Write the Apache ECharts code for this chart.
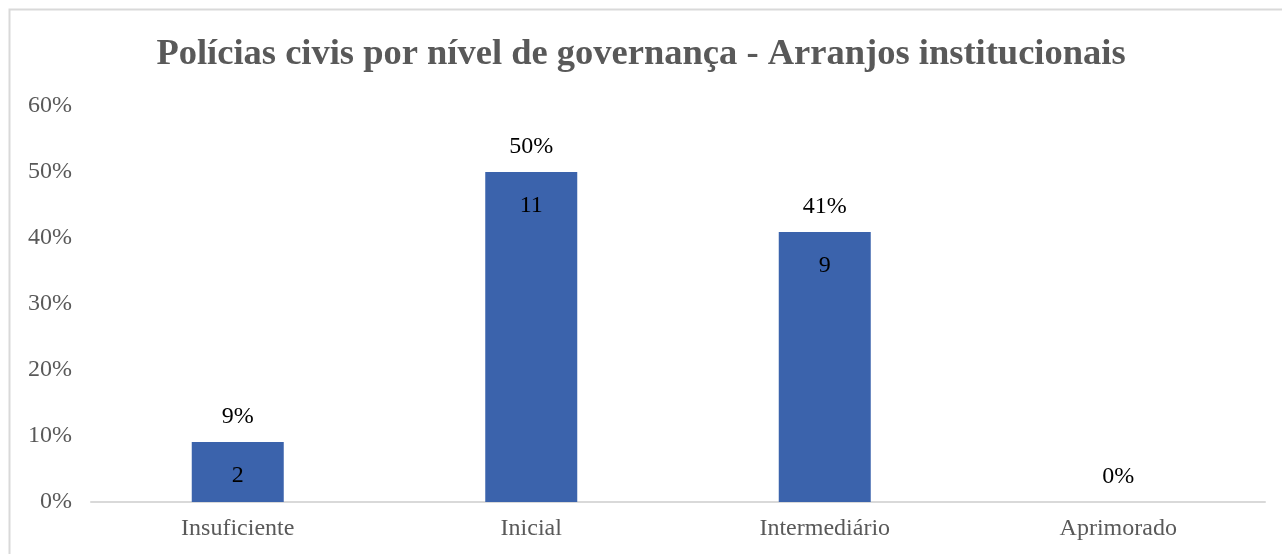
<!DOCTYPE html>
<html>
<head>
<meta charset="utf-8">
<script src="https://cdn.jsdelivr.net/npm/echarts@6/dist/echarts.min.js"></script>
<style>
  html, body { margin: 0; padding: 0; background: #fff; }
  #chart { width: 1282px; height: 554px; }
</style>
</head>
<body>
<div id="chart"></div>
<script>
// dados
var niveis = ['Insuficiente', 'Inicial', 'Intermediário', 'Aprimorado'];
var quantidades = [2, 11, 9, 0];
var percentuais = [0.0909, 0.5, 0.4091, 0];
var ticksY = [0, 0.1, 0.2, 0.3, 0.4, 0.5, 0.6];

var fonte = '"Liberation Serif", "Times New Roman", serif';
var myChart = echarts.init(document.getElementById('chart'));

myChart.setOption({
  animation: false,
  title: {
    text: 'Polícias civis por nível de governança - Arranjos institucionais',
    left: 'center',
    top: 31,
    textStyle: {
      fontFamily: fonte,
      fontSize: 36.5,
      fontWeight: 'bold',
      color: '#595959'
    }
  },
  graphic: [{
    type: 'rect',
    silent: true,
    shape: { x: 9.5, y: 9.5, width: 1300, height: 600 },
    style: { fill: 'none', stroke: '#d9d9d9', lineWidth: 2 }
  }],
  grid: { left: 91, right: 17, top: 106, bottom: 52 },
  xAxis: {
    type: 'category',
    data: niveis,
    axisTick: { show: false },
    axisLine: { lineStyle: { color: '#d9d9d9', width: 2 } },
    axisLabel: {
      margin: 15,
      fontFamily: fonte,
      fontSize: 24,
      color: '#595959'
    }
  },
  yAxis: {
    type: 'value',
    min: ticksY[0],
    max: ticksY[ticksY.length - 1],
    interval: 0.1,
    splitLine: { show: false },
    axisLine: { show: false },
    axisTick: { show: false },
    axisLabel: {
      margin: 19,
      fontFamily: fonte,
      fontSize: 24,
      color: '#595959',
      formatter: function (v) { return Math.round(v * 100) + '%'; }
    }
  },
  series: [
    {
      type: 'bar',
      data: percentuais,
      barWidth: 92,
      itemStyle: { color: '#3B63AC' },
      label: {
        show: true,
        position: 'top',
        distance: 13,
        fontFamily: fonte,
        fontSize: 24,
        color: '#000',
        formatter: function (p) { return Math.round(p.value * 100) + '%'; }
      }
    },
    {
      type: 'bar',
      data: percentuais,
      barWidth: 92,
      barGap: '-100%',
      silent: true,
      itemStyle: { color: 'rgba(0,0,0,0)' },
      label: {
        show: true,
        position: 'insideTop',
        distance: 22,
        fontFamily: fonte,
        fontSize: 24,
        color: '#000',
        formatter: function (p) {
          var q = quantidades[p.dataIndex];
          return q ? String(q) : '';
        }
      }
    }
  ]
});

window.addEventListener('resize', function () {
  myChart.resize();
});
</script>
</body>
</html>
